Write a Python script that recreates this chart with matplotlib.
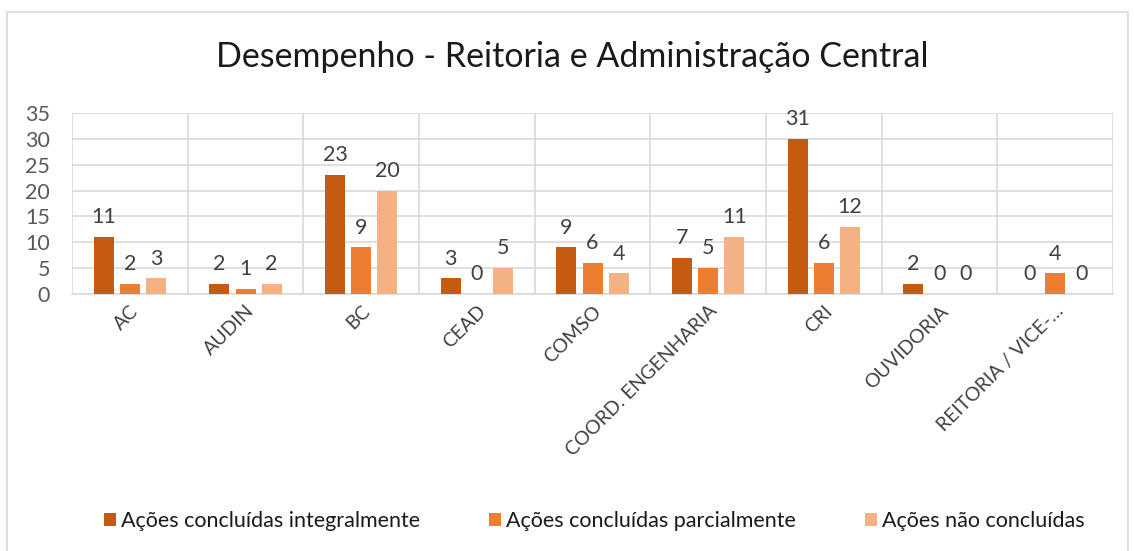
import numpy as np
import matplotlib as mpl
mpl.use('Agg')
import matplotlib.pyplot as plt
from matplotlib.patches import Rectangle

plt.rcParams['font.family'] = ['Lato', 'DejaVu Sans']

categorias = ['AC', 'AUDIN', 'BC', 'CEAD', 'COMSO', 'COORD. ENGENHARIA',
              'CRI', 'OUVIDORIA', 'REITORIA / VICE-…']
series = ['Ações concluídas integralmente', 'Ações concluídas parcialmente',
          'Ações não concluídas']
# altura das barras (como desenhadas) e rotulos de dados (como escritos)
integral = [11, 2, 23, 3, 9, 7, 30, 2, 0]
parcial = [2, 1, 9, 0, 6, 5, 6, 0, 4]
nao_concl = [3, 2, 20, 5, 4, 11, 13, 0, 0]
rot_integral = ['11', '2', '23', '3', '9', '7', '31', '2', '0']
rot_parcial = ['2', '1', '9', '0', '6', '5', '6', '0', '4']
rot_nao = ['3', '2', '20', '5', '4', '11', '12', '0', '0']
cores = ['#C55A11', '#ED7D31', '#F4B183']

fig = plt.figure(figsize=(11.34, 5.51), dpi=100)
ax = fig.add_axes([0.0635, 0.4664, 0.918, 0.3286])

x = np.arange(len(categorias))
largura = 0.173
passo = 0.225
dados = [integral, parcial, nao_concl]
rotulos = [rot_integral, rot_parcial, rot_nao]
for i in range(3):
    pos = x + (i - 1) * passo
    ax.bar(pos, dados[i], width=largura, color=cores[i], label=series[i], zorder=3)
    for px, v, t in zip(pos, dados[i], rotulos[i]):
        ax.annotate(t, (px, v), xytext=(0, 7), textcoords='offset points',
                    ha='center', va='bottom', fontsize=15.5, color='#404040')

ax.set_xlim(-0.5, len(categorias) - 0.5)
ax.set_ylim(0, 35)
ax.set_yticks(range(0, 36, 5))
ax.yaxis.grid(True, color='#D9D9D9', lw=1.2, zorder=0)
for b in np.arange(-0.5, len(categorias), 1):
    ax.axvline(b, color='#D9D9D9', lw=1.2, zorder=0)
for s in ['top', 'right', 'left']:
    ax.spines[s].set_visible(False)
ax.spines['bottom'].set_color('#D9D9D9')
ax.spines['bottom'].set_linewidth(1.2)
ax.tick_params(axis='both', length=0)
ax.tick_params(axis='y', labelsize=15.5, labelcolor='#595959', pad=16)
ax.set_xticks(x)
ax.set_xticklabels(categorias, rotation=45, ha='right', rotation_mode='anchor',
                   fontsize=14, color='#404040')
ax.tick_params(axis='x', pad=6)

fig.text(0.505, 0.897, 'Desempenho - Reitoria e Administração Central',
         ha='center', va='center', fontsize=24.5, color='#1a1a1a')

fig.legend(loc='center', bbox_to_anchor=(0.524, 0.054), ncol=3, frameon=False,
           fontsize=15.5, handlelength=0.55, handleheight=0.55, handletextpad=0.25,
           columnspacing=3.2, labelcolor='#1a1a1a')

fig.patches.append(Rectangle((7 / 1134, -0.01), 1121 / 1134, 1 - 12 / 551 + 0.01,
                             transform=fig.transFigure, fill=False,
                             edgecolor='#D9D9D9', lw=1.2))

fig.savefig('out.png', dpi=100)
